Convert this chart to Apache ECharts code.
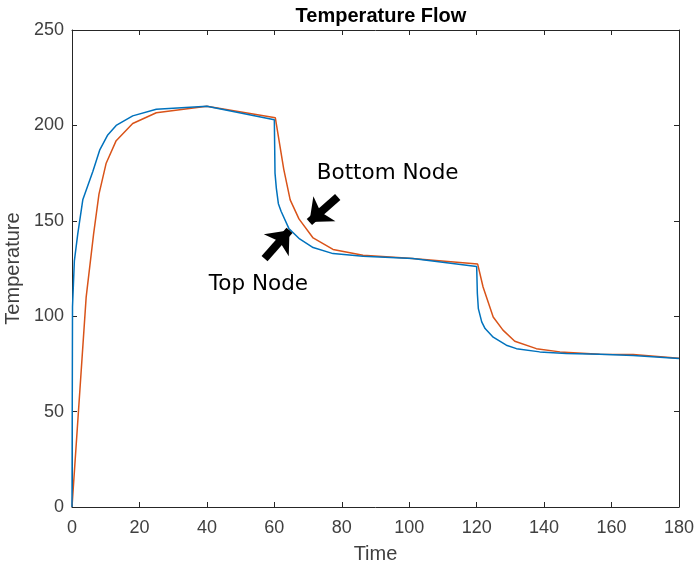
<!DOCTYPE html>
<html>
<head>
<meta charset="utf-8">
<script src="https://cdn.jsdelivr.net/npm/echarts@6/dist/echarts.min.js"></script>
<style>
  html, body { margin: 0; padding: 0; background: #fff; }
  #chart { width: 698px; height: 568px; }
</style>
</head>
<body>
<div id="chart"></div>
<script>
var xTicks = [0, 20, 40, 60, 80, 100, 120, 140, 160, 180];
var yTicks = [0, 50, 100, 150, 200, 250];

// Top Node (blue)
var topTime = [0, 0.15, 0.7, 1.7, 3.2, 6.2, 8.2, 10.6, 13.1, 18, 25, 40, 60,
  60.2, 60.6, 61.2, 62, 64.3, 67.5, 71.5, 77.4, 86.3, 101, 120,
  120.2, 120.5, 121.5, 122.5, 124.9, 128.8, 131.8, 138.7, 146.6, 156.5, 166.4, 180];
var topTemp = [0, 105, 129, 143, 161, 176, 187, 195, 200, 205, 208.5, 210, 203,
  175, 167, 159, 155, 146, 140.5, 136, 132.8, 131.4, 130.2, 126,
  112, 104, 97, 93.5, 89, 84.8, 83, 81.3, 80.5, 80.1, 79.4, 77.8];

// Bottom Node (orange)
var bottomTime = [0, 4.2, 6.4, 8, 10.1, 13.1, 18, 25, 40, 60.3,
  62.8, 64.7, 67.3, 71.5, 77.4, 86.3, 100, 120.3,
  121.9, 124.9, 127.8, 131.3, 137.7, 144.7, 156.5, 166.4, 180];
var bottomTemp = [0, 110, 143, 164, 180, 192, 201, 206.6, 210, 204,
  177, 161, 151, 141, 135, 132, 130.4, 127.3,
  115.3, 99.6, 92.7, 86.9, 83, 81.3, 80.1, 79.9, 78];

// annotation anchors, data coordinates
var bottomArrow = [[78.8, 162.5], [70.4, 149.4]];
var topArrow = [[57.1, 130.2], [64.5, 145]];
var bottomLabel = [93.6, 174.9];
var topLabel = [55.3, 116.8];

function pairs(xs, ys) {
  return xs.map(function (x, i) { return [x, ys[i]]; });
}

var ink = '#262626';
var labelInk = '#404040';

var chart = echarts.init(document.getElementById('chart'), null, { renderer: 'canvas' });

function xAxisCfg(pos, showLabel) {
  return {
    type: 'value', position: pos,
    min: 0, max: 180, interval: 20,
    name: showLabel ? 'Time' : '',
    nameLocation: 'middle', nameGap: 37,
    nameTextStyle: { color: labelInk, fontSize: 20, fontFamily: 'Liberation Sans' },
    axisLine: { show: true, onZero: false, lineStyle: { color: ink, width: 1 } },
    axisTick: { show: true, inside: true, length: 5, lineStyle: { color: ink } },
    axisLabel: { show: showLabel, color: labelInk, fontSize: 18, margin: 12, fontFamily: 'Liberation Sans' },
    splitLine: { show: false }
  };
}

function yAxisCfg(pos, showLabel) {
  return {
    type: 'value', position: pos,
    min: 0, max: 250, interval: 50,
    name: showLabel ? 'Temperature' : '',
    nameLocation: 'middle', nameGap: 45, nameRotate: 90,
    nameTextStyle: { color: labelInk, fontSize: 20, fontFamily: 'Liberation Sans' },
    axisLine: { show: true, onZero: false, lineStyle: { color: ink, width: 1 } },
    axisTick: { show: true, inside: true, length: 5, lineStyle: { color: ink } },
    axisLabel: { show: showLabel, color: labelInk, fontSize: 18, margin: 8, fontFamily: 'Liberation Sans' },
    splitLine: { show: false }
  };
}

chart.setOption({
  animation: false,
  backgroundColor: '#fff',
  title: {
    text: 'Temperature Flow',
    left: 376, top: 1, textAlign: 'center',
    textStyle: { color: '#000', fontSize: 20, fontWeight: 'bold', fontFamily: 'Liberation Sans' }
  },
  grid: { left: 72, right: 19, top: 30, bottom: 61, outerBoundsMode: 'none' },
  xAxis: [xAxisCfg('bottom', true), xAxisCfg('top', false)],
  yAxis: [yAxisCfg('left', true), yAxisCfg('right', false)],
  series: [
    {
      name: 'Top Node', type: 'line',
      data: pairs(topTime, topTemp),
      showSymbol: false,
      lineStyle: { color: '#0072BD', width: 1.5 },
      itemStyle: { color: '#0072BD' },
      z: 3
    },
    {
      name: 'Bottom Node', type: 'line',
      data: pairs(bottomTime, bottomTemp),
      showSymbol: false,
      lineStyle: { color: '#D95319', width: 1.5 },
      itemStyle: { color: '#D95319' },
      z: 2
    },
    {
      name: 'annotations', type: 'line', data: [],
      markLine: {
        silent: true,
        symbol: ['none', 'arrow'],
        symbolSize: [25, 20],
        lineStyle: { color: '#000', width: 8, type: 'solid' },
        label: { show: false },
        data: [
          [{ coord: bottomArrow[0] }, { coord: bottomArrow[1] }],
          [{ coord: topArrow[0] }, { coord: topArrow[1] }]
        ]
      },
      markPoint: {
        silent: true,
        symbolSize: 0,
        label: {
          show: true, color: '#000', fontSize: 21.5,
          fontFamily: 'DejaVu Sans', position: 'inside'
        },
        data: [
          { coord: bottomLabel, label: { formatter: 'Bottom Node' } },
          { coord: topLabel, label: { formatter: 'Top Node' } }
        ]
      }
    }
  ]
});
</script>
</body>
</html>
